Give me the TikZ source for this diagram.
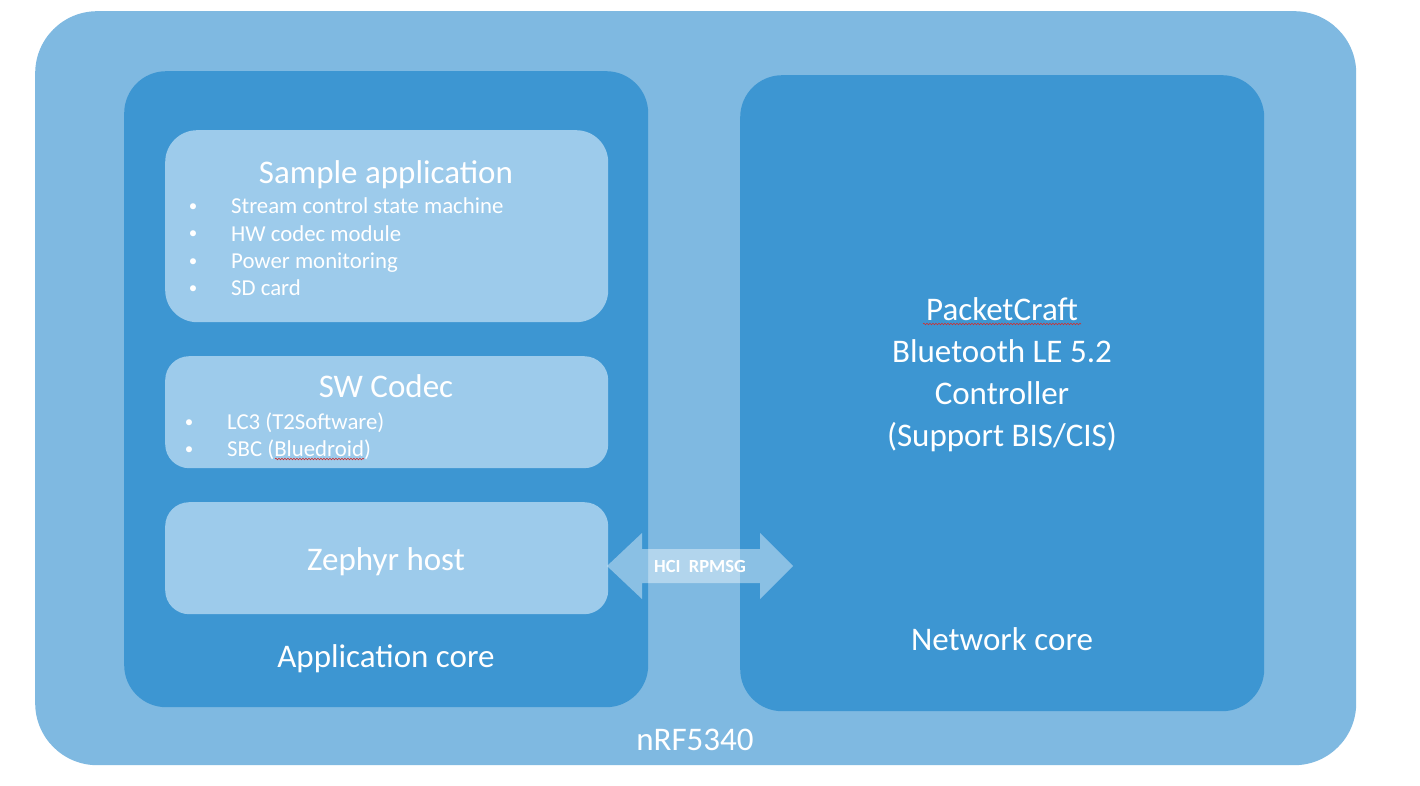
\documentclass[tikz,border=0pt]{standalone}
\usepackage{fontspec}
\setmainfont{Carlito}
\usetikzlibrary{decorations.pathmorphing}
\definecolor{outerblue}{HTML}{7FB9E1}
\definecolor{coreblue}{HTML}{3D96D2}
\definecolor{innerblue}{HTML}{9DCBEB}
\definecolor{squig}{HTML}{D03030}
\begin{document}
\begin{tikzpicture}[x=1pt,y=-1pt,
  box/.style={rectangle, draw=none, inner sep=0pt, anchor=north west},
  big/.style={text=white, inner sep=0pt, anchor=base, font=\fontsize{33}{39}\selectfont},
  item/.style={text=white, inner sep=0pt, anchor=base west, font=\fontsize{22.8}{27}\selectfont},
  dot/.style={text=white, inner sep=0pt, anchor=base, font=\fontsize{17}{20}\selectfont},
  spell/.style={squig, line width=0.6pt, decorate, decoration={snake, amplitude=0.8pt, segment length=3pt}}
]
\useasboundingbox (0,0) rectangle (1420,786);
\fill[white] (0,0) rectangle (1420,786);

% containers
\node[box, fill=outerblue, rounded corners=62pt, minimum width=1321pt, minimum height=754pt] (chip) at (35,11) {};
\node[box, fill=coreblue, rounded corners=42pt, minimum width=524pt, minimum height=636pt] (app) at (124,71) {};
\node[box, fill=coreblue, rounded corners=42pt, minimum width=524pt, minimum height=636pt] (net) at (740,75) {};
\node[box, fill=innerblue, rounded corners=32pt, minimum width=443pt, minimum height=192pt] (sample) at (165,130) {};
\node[box, fill=innerblue, rounded corners=24pt, minimum width=443pt, minimum height=112pt] (sw) at (165,356) {};
\node[box, fill=innerblue, rounded corners=24pt, minimum width=443pt, minimum height=112pt] (zeph) at (165,502) {};

% sample application
\node[big] (sampletitle) at (386,184) {Sample application};
\node[dot] (b1) at (193,212) {•};
\node[item] (i1) at (231,214) {Stream control state machine};
\node[dot] (b2) at (193,239) {•};
\node[item] (i2) at (231,241) {HW codec module};
\node[dot] (b3) at (193,266) {•};
\node[item] (i3) at (231,268) {Power monitoring};
\node[dot] (b4) at (193,293) {•};
\node[item] (i4) at (231,295) {SD card};

% SW codec
\node[big] (swtitle) at (386,397) {SW Codec};
\node[dot] (c1) at (189,427) {•};
\node[item] (j1) at (227,429) {LC3 (T2Software)};
\node[dot] (c2) at (189,454) {•};
\node[item] (j2) at (227,456) {SBC (Bluedroid)};
\draw[spell] (275,459) -- (364,459);

% Zephyr, core labels
\node[big] (zephtext) at (386,570) {Zephyr host};
\node[big] (applabel) at (386,667) {Application core};
\node[big] (netlabel) at (1002,650) {Network core};
\node[big] (chiplabel) at (695,750) {nRF5340};

% network core text
\node[big] (n1) at (1002,320) {PacketCraft};
\draw[spell] (923,324) -- (1081,324);
\node[big] (n2) at (1002,362) {Bluetooth LE 5.2};
\node[big] (n3) at (1002,404) {Controller};
\node[big] (n4) at (1002,446) {(Support BIS/CIS)};

% HCI RPMSG block arrow
\fill[white, fill opacity=0.4] (607,566) -- (642,533) -- (642,549) -- (760,549) -- (760,533)
  -- (793,566) -- (760,599) -- (760,583) -- (642,583) -- (642,599) -- cycle;
\node[text=white, inner sep=0pt, anchor=base, font=\bfseries\fontsize{18.5}{22}\selectfont] (hci) at (700,572) {HCI\ \ RPMSG};
\end{tikzpicture}
\end{document}
